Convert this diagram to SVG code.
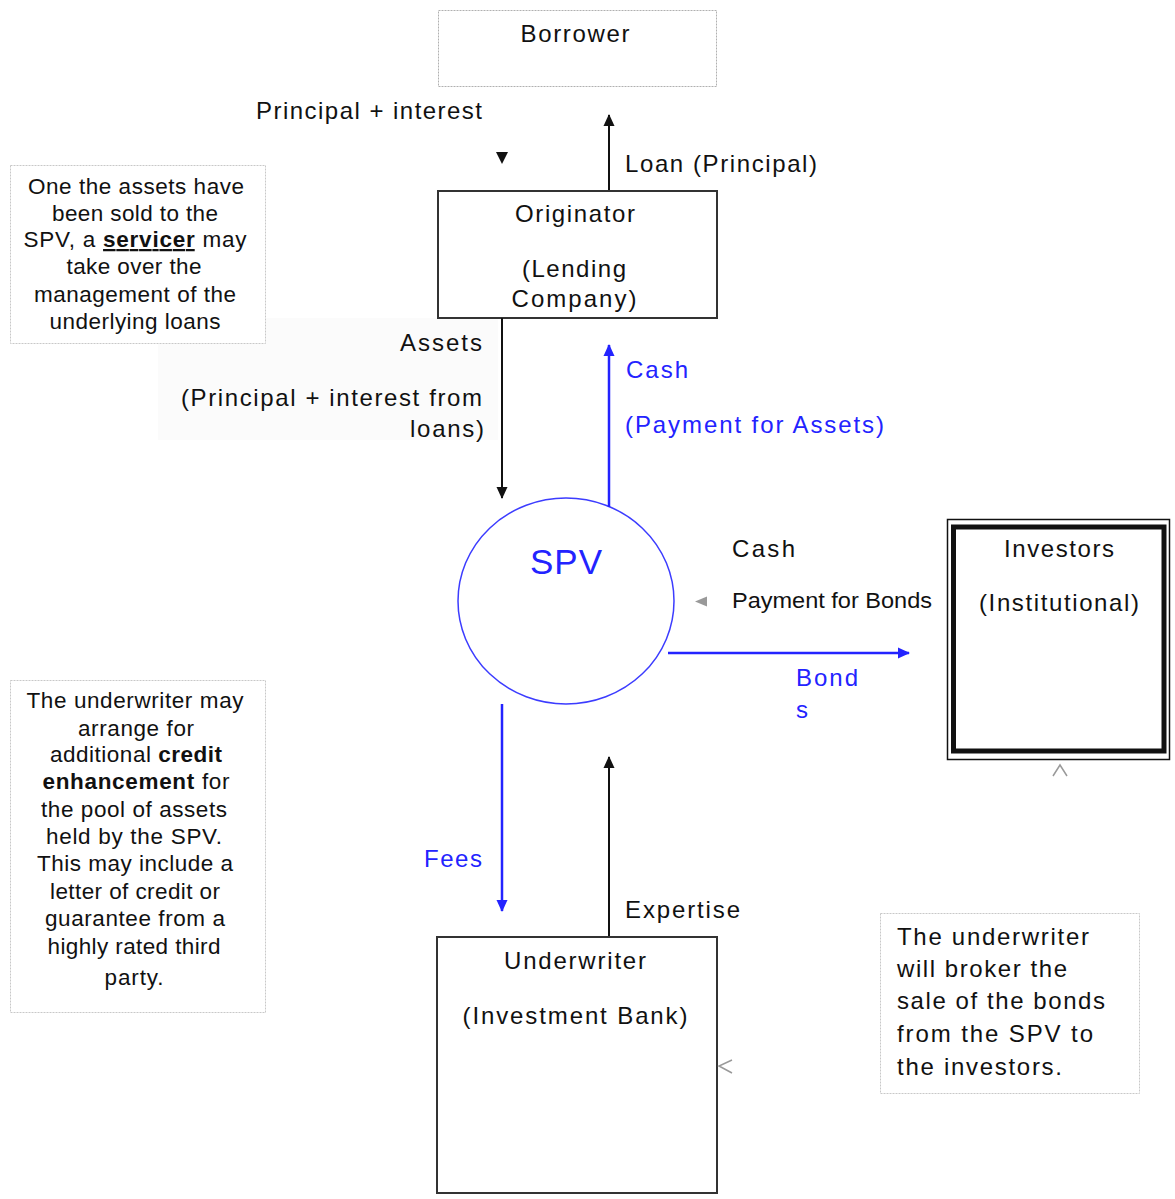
<svg xmlns="http://www.w3.org/2000/svg" width="1175" height="1199" viewBox="0 0 1175 1199">
<style>
text{font-family:"Liberation Sans",Arial,sans-serif;fill:#111;}
.t{font-size:24px;}
.n{font-size:22.5px;}
.m{font-size:25px;}
.b{fill:#2323ff;}
.c{text-anchor:middle;}
.r{text-anchor:end;}
.box{fill:#fff;stroke:#333;stroke-width:2;}
.note{fill:#fff;stroke:#c8c8c8;stroke-width:1;stroke-dasharray:2 1;}
.blk{stroke:#111;stroke-width:2;fill:none;}
.blu{stroke:#2323ff;stroke-width:2.5;fill:none;}
</style>
<defs>
<marker id="ak" markerUnits="userSpaceOnUse" markerWidth="12" markerHeight="12" viewBox="0 0 12 12" refX="11" refY="6" orient="auto"><path d="M0,0.5 L12,6 L0,11.5 z" fill="#111"/></marker>
<marker id="ab" markerUnits="userSpaceOnUse" markerWidth="12" markerHeight="12" viewBox="0 0 12 12" refX="11" refY="6" orient="auto"><path d="M0,0.5 L12,6 L0,11.5 z" fill="#2323ff"/></marker>
</defs>
<rect width="1175" height="1199" fill="#fff"/>
<rect x="158" y="318" width="340" height="122" fill="#fbfbfb"/>

<g id="borrower">
<rect x="438.5" y="10.5" width="278" height="76" fill="#fff" stroke="#b0b0b0" stroke-width="1" stroke-dasharray="2 1"/>
<text class="t c" x="575" y="42" textLength="109">Borrower</text>
</g>

<g id="originator">
<rect class="box" x="438" y="191" width="279" height="127"/>
<text class="t c" x="575" y="222" textLength="120">Originator</text>
<text class="t c" x="574" y="277" textLength="104">(Lending</text>
<text class="t c" x="574" y="307" textLength="125">Company)</text>
</g>

<g id="note-servicer">
<rect class="note" x="10.5" y="165.5" width="255" height="178"/>
<text class="n c" x="136" y="194" textLength="216">One the assets have</text>
<text class="n c" x="135" y="221" textLength="166">been sold to the</text>
<text class="n c" x="135" y="247" textLength="223">SPV, a <tspan font-weight="bold" text-decoration="underline">servicer</tspan> may</text>
<text class="n c" x="134" y="274" textLength="135">take over the</text>
<text class="n c" x="135" y="302" textLength="202">management of the</text>
<text class="n c" x="135" y="329" textLength="171">underlying loans</text>
</g>

<g id="spv">
<ellipse cx="566" cy="601" rx="108" ry="103" fill="#fff" stroke="#3c3cff" stroke-width="1.5"/>
<text class="b c" x="566" y="574" font-size="35" textLength="72">SPV</text>
</g>

<g id="investors">
<rect x="947.5" y="519.5" width="222" height="240" fill="#fff" stroke="#111" stroke-width="1.5"/>
<rect x="953.5" y="527" width="210.5" height="224" fill="#fff" stroke="#111" stroke-width="5"/>
<text class="t c" x="1059" y="557" textLength="110">Investors</text>
<text class="t c" x="1059" y="611" textLength="160">(Institutional)</text>
</g>

<g id="note-credit">
<rect class="note" x="10.5" y="680.5" width="255" height="332"/>
<text class="n c" x="135" y="708" textLength="217">The underwriter may</text>
<text class="n c" x="136" y="736" textLength="116">arrange for</text>
<text class="n c" x="136" y="762" textLength="172">additional <tspan font-weight="bold">credit</tspan></text>
<text class="n c" x="136" y="789" textLength="187"><tspan font-weight="bold">enhancement</tspan> for</text>
<text class="n c" x="134" y="817" textLength="186">the pool of assets</text>
<text class="n c" x="134" y="844" textLength="176">held by the SPV.</text>
<text class="n c" x="135" y="871" textLength="196">This may include a</text>
<text class="n c" x="135" y="899" textLength="170">letter of credit or</text>
<text class="n c" x="135" y="926" textLength="180">guarantee from a</text>
<text class="n c" x="134" y="954" textLength="173">highly rated third</text>
<text class="n c" x="134" y="985" textLength="59">party.</text>
</g>

<g id="underwriter">
<rect class="box" x="437" y="937" width="280" height="256"/>
<text class="t c" x="575" y="969" textLength="142">Underwriter</text>
<text class="t c" x="575" y="1024" textLength="225">(Investment Bank)</text>
</g>

<g id="note-broker">
<rect class="note" x="880.5" y="913.5" width="259" height="180"/>
<text class="t" x="897" y="945" textLength="192">The underwriter</text>
<text class="t" x="897" y="977" textLength="170">will broker the</text>
<text class="t" x="897" y="1009" textLength="208">sale of the bonds</text>
<text class="t" x="897" y="1042" textLength="196">from the SPV to</text>
<text class="t" x="897" y="1075" textLength="165">the investors.</text>
</g>

<g id="connectors">
<polygon points="496,152 508,152 502,164" fill="#111"/>
<line class="blk" x1="609" y1="190" x2="609" y2="115" marker-end="url(#ak)"/>
<line class="blk" x1="502" y1="318" x2="502" y2="498" marker-end="url(#ak)"/>
<line class="blu" x1="609" y1="507" x2="609" y2="345" marker-end="url(#ab)"/>
<line class="blu" x1="668" y1="653" x2="909" y2="653" marker-end="url(#ab)"/>
<line class="blu" x1="502" y1="704" x2="502" y2="911" marker-end="url(#ab)"/>
<line class="blk" x1="609" y1="936" x2="609" y2="757" marker-end="url(#ak)"/>
<polygon points="695,601.5 707,596.5 707,606.5" fill="#999"/>
<polyline points="1053,776 1060,765 1067,776" fill="none" stroke="#999" stroke-width="1.5"/>
<polyline points="732,1060 719,1066 732,1073" fill="none" stroke="#999" stroke-width="1.5"/>
</g>

<g id="labels">
<text class="t" x="256" y="119" textLength="226">Principal + interest</text>
<text class="t" x="625" y="172" textLength="192">Loan (Principal)</text>
<text class="t r" x="482" y="351" textLength="82">Assets</text>
<text class="t r" x="482" y="406" textLength="301">(Principal + interest from</text>
<text class="t r" x="484" y="437" textLength="74">loans)</text>
<text class="t b" x="626" y="378" textLength="62">Cash</text>
<text class="t b" x="625" y="433" textLength="259">(Payment for Assets)</text>
<text class="t" x="732" y="557" textLength="63">Cash</text>
<text x="732" y="608" font-size="22" textLength="200" lengthAdjust="spacingAndGlyphs">Payment for Bonds</text>
<text class="t b" x="796" y="686" textLength="62">Bond</text>
<text class="t b" x="796" y="718">s</text>
<text class="t b" x="424" y="867" textLength="58">Fees</text>
<text class="t" x="625" y="918" textLength="115">Expertise</text>
</g>
</svg>
